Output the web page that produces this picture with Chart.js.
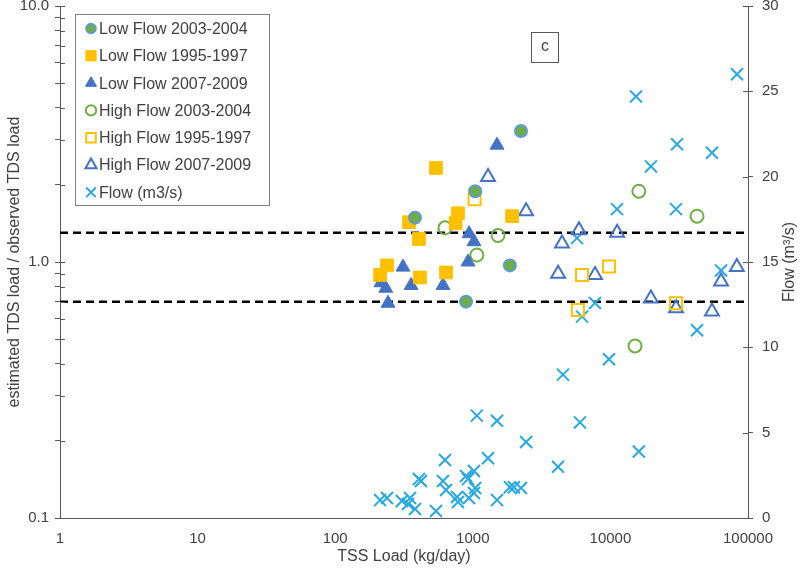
<!DOCTYPE html>
<html>
<head>
<meta charset="utf-8">
<script src="https://cdn.jsdelivr.net/npm/chart.js@4.4.1/dist/chart.umd.min.js"></script>
<style>
  html, body { margin: 0; padding: 0; background: #fff; }
  #wrap { width: 800px; height: 571px; }
</style>
</head>
<body>
<div id="wrap"><canvas id="chart" width="800" height="571"></canvas></div>
<script>
// TSS load vs. estimated/observed TDS load ratio, flow on the right axis

// Low flow periods (filled markers)
const lowFlow0304X = [2240, 1040, 380, 1860, 893];
const lowFlow0304Y = [3.25, 1.89, 1.49, 0.97, 0.70];
const lowFlow9597X = [540, 1930, 344, 780, 750, 406, 238, 212, 413, 639];
const lowFlow9597Y = [2.33, 1.51, 1.43, 1.55, 1.42, 1.23, 0.97, 0.89, 0.87, 0.91];
const lowFlow0709X = [1500, 940, 1020, 923, 311, 215, 233, 356, 607, 242];
const lowFlow0709Y = [2.86, 1.29, 1.20, 1.00, 0.955, 0.83, 0.79, 0.81, 0.81, 0.69];

// High flow periods (open markers)
const highFlow0304X = [628, 1525, 1070, 16100, 42600, 15100];
const highFlow0304Y = [1.36, 1.27, 1.065, 1.89, 1.51, 0.47];
const highFlow9597X = [1030, 9770, 6220, 5800, 30000];
const highFlow9597Y = [1.76, 0.96, 0.89, 0.65, 0.69];
const highFlow0709X = [1290, 2440, 4450, 4170, 5910, 11200, 7730, 19700, 30000, 54700, 63700, 83000];
const highFlow0709Y = [2.15, 1.58, 1.18, 0.90, 1.33, 1.30, 0.89, 0.72, 0.66, 0.64, 0.84, 0.955];

// Flow (m3/s), right axis
const flowX = [83200, 15350, 30500, 54700, 19700, 11170, 30000, 5720, 63700, 7730,
               6220, 42600, 9770, 4520, 6010, 2440, 16100, 4160, 1860, 1990,
               2240, 1500, 1070, 628, 1290, 1020, 893, 923, 406, 420,
               607, 639, 1040, 1020, 768, 780, 938, 1500, 212, 238,
               305, 350, 338, 380, 540];
const flowY = [26.0, 24.7, 21.9, 21.4, 20.6, 18.1, 18.1, 16.4, 14.5, 12.6,
               11.8, 11.0, 9.3, 8.4, 5.6, 4.45, 3.9, 3.0, 1.8, 1.8,
               1.76, 5.7, 6.0, 3.4, 3.5, 2.75, 2.46, 2.28, 2.28, 2.17,
               2.17, 1.64, 1.76, 1.46, 1.23, 0.94, 1.17, 1.05, 1.05, 1.17,
               1.0, 1.17, 0.82, 0.53, 0.41];

// acceptance band for the load ratio
const ratioBounds = [0.7, 1.3];

// axis ticks
const xTicks = [1, 10, 100, 1000, 10000, 100000];
const yTicks = [0.1, 0.2, 0.3, 0.4, 0.5, 0.6, 0.7, 0.8, 0.9, 1, 2, 3, 4, 5, 6, 7, 8, 9, 10];
const yLabelTicks = [0.1, 1, 10];
const flowTicks = [0, 5, 10, 15, 20, 25, 30];

const axisColor = '#595959';
const textColor = '#404040';
const fontFamily = '"Liberation Sans", Arial, sans-serif';

const pts = (xs, ys) => xs.map((x, i) => ({ x: x, y: ys[i] }));

const datasets = [
  { label: 'Low Flow 2003-2004', data: pts(lowFlow0304X, lowFlow0304Y),
    pointStyle: 'circle', pointRadius: 6, backgroundColor: '#70AD47', borderColor: '#5B9BD5', borderWidth: 2 },
  { label: 'Low Flow 1995-1997', data: pts(lowFlow9597X, lowFlow9597Y),
    pointStyle: 'rect', pointRadius: 9, backgroundColor: '#FFC000', borderColor: '#FFC000', borderWidth: 1 },
  { label: 'Low Flow 2007-2009', data: pts(lowFlow0709X, lowFlow0709Y),
    pointStyle: 'triangle', pointRadius: 8, backgroundColor: '#4472C4', borderColor: '#4472C4', borderWidth: 1 },
  { label: 'High Flow 2003-2004', data: pts(highFlow0304X, highFlow0304Y),
    pointStyle: 'circle', pointRadius: 6.5, backgroundColor: 'rgba(0,0,0,0)', borderColor: '#70AD47', borderWidth: 2 },
  { label: 'High Flow 1995-1997', data: pts(highFlow9597X, highFlow9597Y),
    pointStyle: 'rect', pointRadius: 8.5, backgroundColor: 'rgba(0,0,0,0)', borderColor: '#FFC000', borderWidth: 2 },
  { label: 'High Flow 2007-2009', data: pts(highFlow0709X, highFlow0709Y),
    pointStyle: 'triangle', pointRadius: 8, backgroundColor: 'rgba(0,0,0,0)', borderColor: '#4472C4', borderWidth: 2 },
  { label: 'Flow (m3/s)', data: pts(flowX, flowY), yAxisID: 'y2',
    pointStyle: 'crossRot', pointRadius: 8.5, backgroundColor: 'rgba(0,0,0,0)', borderColor: '#29A9E1', borderWidth: 2 }
];

// dashed bounds, drawn under the markers
ratioBounds.forEach(b => {
  datasets.push({
    label: 'bound ' + b,
    data: [{ x: xTicks[0], y: b }, { x: xTicks[xTicks.length - 1], y: b }],
    showLine: true, pointRadius: 0, borderColor: '#000', borderWidth: 2.5,
    borderDash: [8, 5], fill: false, order: 10, isBound: true
  });
});

// legend box in the upper left of the plot
const boxLegend = {
  id: 'boxLegend',
  afterDraw(chart) {
    const ctx = chart.ctx;
    ctx.save();
    ctx.fillStyle = '#fff';
    ctx.fillRect(75, 14, 194, 191);
    ctx.strokeStyle = '#808080';
    ctx.lineWidth = 1;
    ctx.strokeRect(75.5, 14.5, 194, 191);
    ctx.font = '16px ' + fontFamily;
    ctx.textBaseline = 'middle';
    chart.data.datasets.filter(d => !d.isBound).forEach((d, i) => {
      const y = 28.5 + i * 27.3;
      ctx.fillStyle = d.backgroundColor;
      ctx.strokeStyle = d.borderColor;
      ctx.lineWidth = d.borderWidth;
      Chart.helpers.drawPoint(ctx, {
        pointStyle: d.pointStyle, radius: d.pointRadius * 0.8, rotation: 0, borderWidth: d.borderWidth
      }, 91, y);
      ctx.fillStyle = textColor;
      ctx.fillText(d.label, 99, y + 1);
    });
    ctx.restore();
  }
};

// tick marks crossing the vertical axes, panel letter, right axis title
const extras = {
  id: 'extras',
  afterDraw(chart) {
    const ctx = chart.ctx;
    ctx.save();
    ctx.strokeStyle = axisColor;
    ctx.lineWidth = 1;
    ['y', 'y2'].forEach(id => {
      const s = chart.scales[id];
      const x0 = id === 'y' ? s.right : s.left;
      const dir = id === 'y' ? 1 : -1;
      s.ticks.forEach(t => {
        const py = Math.round(s.getPixelForValue(t.value)) + 0.5;
        ctx.beginPath();
        ctx.moveTo(x0, py);
        ctx.lineTo(x0 + dir * 5, py);
        ctx.stroke();
      });
    });

    // panel label "c"
    ctx.strokeStyle = '#595959';
    ctx.strokeRect(531.5, 32.5, 27, 30);
    ctx.fillStyle = textColor;
    ctx.font = '16px ' + fontFamily;
    ctx.textAlign = 'center';
    ctx.textBaseline = 'middle';
    ctx.fillText('c', 545, 47);

    // right axis title reads bottom to top
    const area = chart.chartArea;
    ctx.translate(790, (area.top + area.bottom) / 2);
    ctx.rotate(-Math.PI / 2);
    ctx.fillText('Flow (m³/s)', 0, 0);
    ctx.restore();
  }
};

new Chart(document.getElementById('chart'), {
  type: 'scatter',
  data: { datasets: datasets },
  options: {
    responsive: false,
    animation: false,
    devicePixelRatio: 1,
    events: [],
    layout: { autoPadding: false, padding: { top: 6, left: 0, right: 0, bottom: 0 } },
    plugins: {
      legend: { display: false },
      tooltip: { enabled: false }
    },
    scales: {
      x: {
        type: 'logarithmic',
        position: 'bottom',
        min: xTicks[0],
        max: xTicks[xTicks.length - 1],
        afterBuildTicks: s => { s.ticks = xTicks.map(v => ({ value: v })); },
        afterFit: s => { s.height = 53; s.paddingLeft = 0; s.paddingRight = 0; },
        grid: { display: true, drawOnChartArea: false, drawTicks: false },
        border: { display: true, color: axisColor, width: 1 },
        ticks: {
          autoSkip: false, maxRotation: 0, minRotation: 0, padding: 12,
          color: textColor, font: { family: fontFamily, size: 15 },
          callback: v => String(v)
        },
        title: {
          display: true, text: 'TSS Load (kg/day)', color: textColor,
          font: { family: fontFamily, size: 16 }, padding: { top: 0, bottom: 5 }
        }
      },
      y: {
        type: 'logarithmic',
        position: 'left',
        min: yTicks[0],
        max: yTicks[yTicks.length - 1],
        afterBuildTicks: s => { s.ticks = yTicks.map(v => ({ value: v })); },
        afterFit: s => { s.width = 60; s.paddingTop = 0; s.paddingBottom = 0; },
        grid: { display: true, drawOnChartArea: false, drawTicks: true, tickLength: 5, color: axisColor },
        border: { display: true, color: axisColor, width: 1 },
        ticks: {
          autoSkip: false, padding: 6,
          color: textColor, font: { family: fontFamily, size: 15 },
          callback: v => yLabelTicks.some(t => Math.abs(t - v) < 1e-9) ? v.toFixed(1) : ''
        },
        title: {
          display: true, text: 'estimated TDS load / observed TDS load', color: textColor,
          font: { family: fontFamily, size: 16 }, padding: { top: 5, bottom: 0 }
        }
      },
      y2: {
        type: 'linear',
        position: 'right',
        min: flowTicks[0],
        max: flowTicks[flowTicks.length - 1],
        afterBuildTicks: s => { s.ticks = flowTicks.map(v => ({ value: v })); },
        afterFit: s => { s.width = 52; s.paddingTop = 0; s.paddingBottom = 0; },
        grid: { display: true, drawOnChartArea: false, drawTicks: true, tickLength: 5, color: axisColor },
        border: { display: true, color: axisColor, width: 1 },
        ticks: {
          autoSkip: false, padding: 9,
          color: textColor, font: { family: fontFamily, size: 15 },
          callback: v => String(v)
        }
      }
    }
  },
  plugins: [boxLegend, extras]
});
</script>
</body>
</html>
